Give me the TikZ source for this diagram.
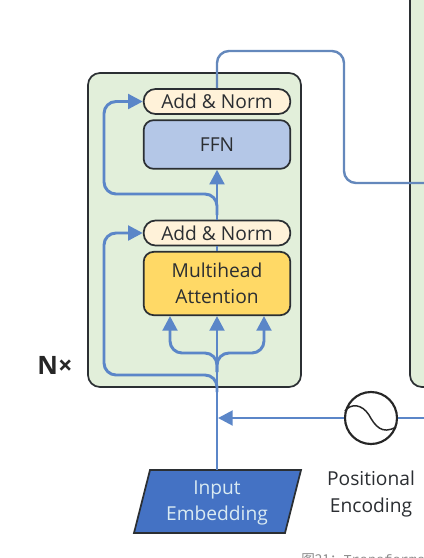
\documentclass[tikz,border=0pt]{standalone}
\usepackage{fontspec}
\setmainfont{Open Sans}
\newfontfamily\cjk{Noto Sans CJK SC}
\newfontfamily\capmono{Liberation Mono}
\usetikzlibrary{arrows.meta,calc}
\definecolor{panelgreen}{HTML}{E2EFDA}
\definecolor{edgedark}{HTML}{2B2F33}
\definecolor{normfill}{HTML}{FFF2D9}
\definecolor{ffnfill}{HTML}{B4C7E7}
\definecolor{attfill}{HTML}{FFD966}
\definecolor{flowblue}{HTML}{5B86C8}
\definecolor{outblue}{HTML}{6488BC}
\definecolor{embfill}{HTML}{4472C4}
\definecolor{embtext}{HTML}{D9EAF2}
\definecolor{inktext}{HTML}{2B2E32}
\tikzset{
  x=0.75pt,y=-0.75pt,
  panel/.style={draw=edgedark,line width=1.3pt,fill=panelgreen,rounded corners=9pt},
  block/.style={draw=edgedark,line width=1.3pt,rounded corners=7.5pt,minimum width=110pt,inner sep=0pt,align=center,text=inktext,font=\fontsize{14.4}{19.6}\selectfont},
  normbox/.style={block,fill=normfill,minimum height=18.8pt,rounded corners=9pt,font=\fontsize{14.4}{16}\selectfont},
  flow/.style={draw=flowblue,line width=2.2pt,rounded corners=9pt},
  flowtip/.style={flow,-{Triangle[length=11pt,width=11pt]}},
  outflow/.style={draw=outblue,line width=1.8pt,rounded corners=9pt},
  lbl/.style={align=center,text=inktext,font=\fontsize{14.4}{20}\selectfont,inner sep=0pt},
}
\begin{document}
\begin{tikzpicture}
\useasboundingbox (0,0) rectangle (424,558);
\clip (0,0) rectangle (424,558);
\fill[white] (0,0) rectangle (424,558);
% panels
\draw[panel] (410,-30) rectangle (470,387);
\draw[panel] (88,73) rectangle (301,387);
% blocks
\coordinate (c) at (217,0);
\node[normbox] (norm2) at (217,101.5) {Add \& Norm};
\node[block,fill=ffnfill,minimum height=36.5pt] (ffn) at (217,144.5) {FFN};
\node[normbox] (norm1) at (217,233) {Add \& Norm};
\node[block,fill=attfill,minimum height=47.5pt] (att) at (217,283.5) {Multihead\\Attention};
% embedding parallelogram
\draw[draw=edgedark,line width=1.3pt,fill=embfill] (150,470) -- (301,470) -- (285,533) -- (134,533) -- cycle;
\node[lbl,text=embtext] (emb) at (217,503) {Input\\Embedding};
\coordinate (embtop) at (217,470);
% positional encoding
\node[circle,draw=black!85,line width=1.6pt,minimum size=39pt,inner sep=0pt] (pe) at (371,418) {};
\draw[black!85,line width=1.1pt] (345,411) .. controls (351,403) and (362,404) .. (369,415) .. controls (375,426) and (382,435) .. (396,427);
\node[lbl] (pelabel) at (371,494) {Positional\\Encoding};
\node[inner sep=0pt,text=black!85,font=\bfseries\fontsize{19}{20}\selectfont] (nx) at (55,365) {N×};
\node[anchor=west,inner sep=0pt,text=black!45,font=\fontsize{10.2}{11}\selectfont] (cap) at (301,559.5) {{\cjk 图21：}{\capmono Transforme}};
% coordinates
\coordinate (rightin) at (424,418);
\coordinate (join) at (218,418);
\coordinate (rightout) at (424,183);
% connectors
\draw[flow] (embtop) -- (217,340);
\draw[flowtip] (217,372) -- (att.south);
\draw[flowtip] (217,372) -- (217,353) -- (170,353) -- (170,316);
\draw[flowtip] (217,372) -- (217,353) -- (264,353) -- (264,316);
\draw[flowtip] (217,392) -- (217,375) -- (104,375) -- (104,233) -- (norm1.west);
\draw[flow] (att.north) -- (norm1.south);
\draw[flowtip] (norm1.north) -- (ffn.south);
\draw[flowtip] (217,215) -- (217,194) -- (104,194) -- (104,101.5) -- (norm2.west);
\draw[outflow] (norm2.north) -- (217,51) -- (344,51) -- (344,183) -- (rightout);
\draw[flow] (rightin) -- (pe.east);
\draw[flowtip] (pe.west) -- (join);
\end{tikzpicture}
\end{document}
